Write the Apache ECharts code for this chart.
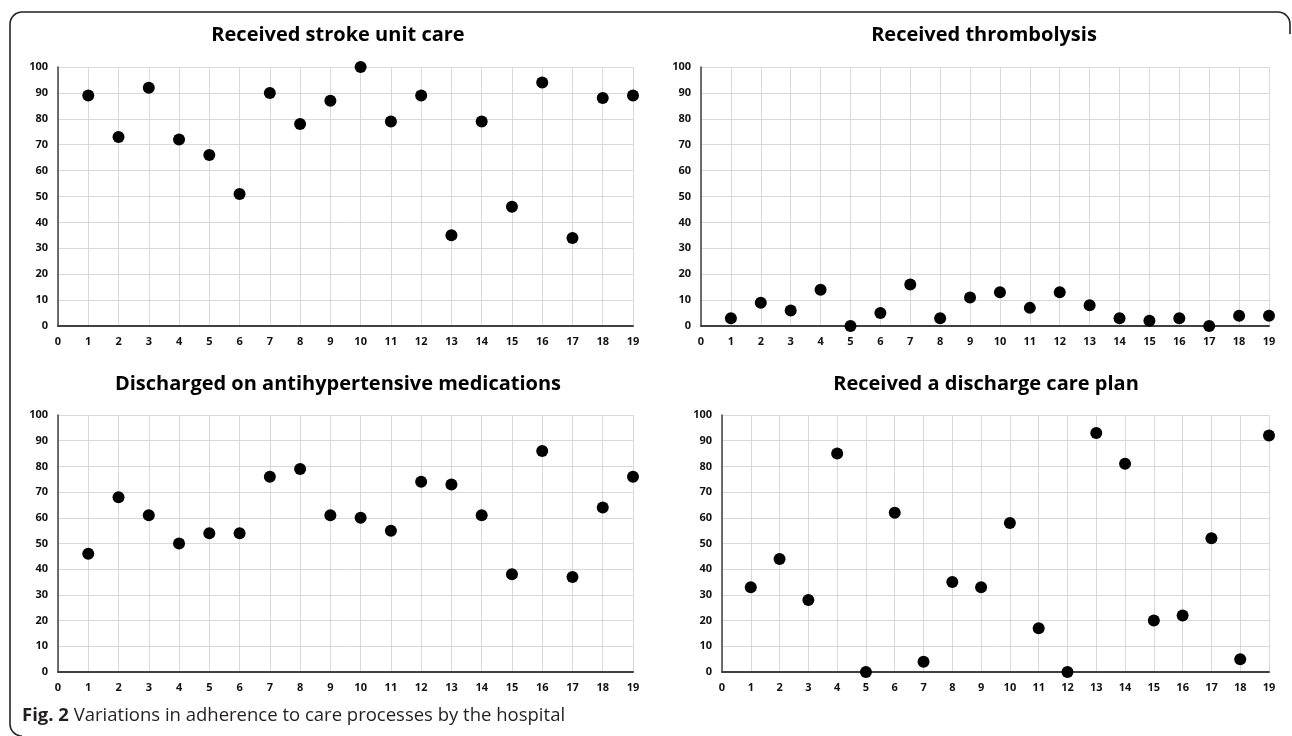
<!DOCTYPE html>
<html>
<head>
<meta charset="utf-8">
<script src="https://cdn.jsdelivr.net/npm/echarts@6/dist/echarts.min.js"></script>
<style>
html,body{margin:0;padding:0;background:#fff;}
#chart{width:1292px;height:736px;}
</style>
</head>
<body>
<div id="chart"></div>
<script>
// ---- data ----
const hospitals = [1,2,3,4,5,6,7,8,9,10,11,12,13,14,15,16,17,18,19];
const strokeUnitCare = [89,73,92,72,66,51,90,78,87,100,79,89,35,79,46,94,34,88,89];
const thrombolysis   = [3,9,6,14,0,5,16,3,11,13,7,13,8,3,2,3,0,4,4];
const antihypertensive = [46,68,61,50,54,54,76,79,61,60,55,74,73,61,38,86,37,64,76];
const dischargeCarePlan = [33,44,28,85,0,62,4,35,33,58,17,0,93,81,20,22,52,5,92];
const panelTitles = ['Received stroke unit care','Received thrombolysis','Discharged on antihypertensive medications','Received a discharge care plan'];
const captionBold = 'Fig. 2';
const captionText = ' Variations in adherence to care processes by the hospital';

const seriesValues = [strokeUnitCare, thrombolysis, antihypertensive, dischargeCarePlan];

// ---- layout ----
const grids = [
  {left:58, top:67, width:575, height:259},
  {left:701, top:67, width:568, height:259},
  {left:58, top:415, width:575, height:257},
  {left:722, top:415, width:547, height:257}
];
const titlePos = [[338,35],[984,35],[338,384],[986,384]];

const labelFont = {fontFamily:'Open Sans', fontWeight:'bold', fontSize:11, color:'#111'};
const gridLineColor = '#d9d9d9';

const xAxes = grids.map((g,i)=>({
  type:'value', gridIndex:i, min:0, max:19, interval:1,
  axisLine:{show:true, onZero:false, lineStyle:{color:'#404040', width:2}},
  axisTick:{show:false},
  axisLabel:Object.assign({margin:10}, labelFont),
  splitLine:{show:true, lineStyle:{color:gridLineColor, width:1}}
}));
const yAxes = grids.map((g,i)=>({
  type:'value', gridIndex:i, min:0, max:100, interval:10,
  axisLine:{show:true, onZero:false, lineStyle:{color:'#404040', width:1.5}},
  axisTick:{show:false},
  axisLabel:Object.assign({margin:10}, labelFont),
  splitLine:{show:true, lineStyle:{color:gridLineColor, width:1}}
}));
const series = seriesValues.map((vals,i)=>({
  type:'scatter', xAxisIndex:i, yAxisIndex:i,
  symbol:'circle', symbolSize:12, clip:false,
  itemStyle:{color:'#000', opacity:1},
  data: hospitals.map((h,k)=>[h, vals[k]])
}));

const graphics = panelTitles.map((t,i)=>({
  type:'text', x:titlePos[i][0], y:titlePos[i][1],
  style:{text:t, font:'bold 20px "Open Sans"', fill:'#000', textAlign:'center', textVerticalAlign:'middle'}
}));

// decorative frame with rounded corners
function arcPts(cx, cy, r, a0, a1){
  const pts=[]; const n=8;
  for(let k=0;k<=n;k++){const a=a0+(a1-a0)*k/n; pts.push([cx+r*Math.cos(a), cy+r*Math.sin(a)]);}
  return pts;
}
const R = 12;
let framePts = [];
framePts = framePts.concat(arcPts(10+R, 736-R, R, Math.PI/2, Math.PI));
framePts = framePts.concat(arcPts(10+R, 12+R, R, Math.PI, 1.5*Math.PI));
framePts = framePts.concat(arcPts(1290-R, 12+R, R, 1.5*Math.PI, 2*Math.PI));
framePts.push([1290, 34]);
graphics.push({
  type:'polyline',
  shape:{points:framePts},
  style:{stroke:'#222', lineWidth:1.6, fill:null}
});
graphics.push({
  type:'text', x:22, y:716,
  style:{
    text:'{b|'+captionBold+'}{r|'+captionText+'}',
    rich:{
      b:{fontFamily:'Open Sans', fontWeight:'bold', fontSize:18.5, fill:'#231f20'},
      r:{fontFamily:'Open Sans', fontSize:18.5, fill:'#231f20'}
    },
    textVerticalAlign:'middle'
  }
});

const chart = echarts.init(document.getElementById('chart'));
chart.setOption({
  animation:false,
  backgroundColor:'#fff',
  grid: grids,
  xAxis: xAxes,
  yAxis: yAxes,
  series: series,
  graphic: graphics
});
</script>
</body>
</html>
